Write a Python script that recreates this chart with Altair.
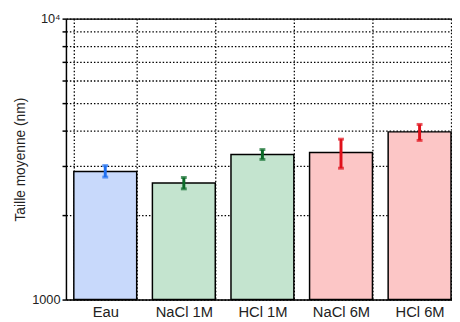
import altair as alt
import pandas as pd

categories = ["Eau", "NaCl 1M", "HCl 1M", "NaCl 6M", "HCl 6M"]
sizes = [2855, 2600, 3283, 3337, 3953]
err_low = [2729, 2478, 3155, 2935, 3686]
err_high = [2998, 2720, 3420, 3724, 4202]
fill_colors = ["#c8d9fb", "#c4e4cf", "#c4e4cf", "#fcc6c6", "#fcc6c6"]
err_colors = ["#1f6ff0", "#0b6b28", "#0b6b28", "#e0101a", "#e0101a"]

df = pd.DataFrame({
    "cat": categories,
    "val": sizes,
    "lo": err_low,
    "hi": err_high,
    "fill": fill_colors,
    "ecol": err_colors,
})

FONT = "Arial, Liberation Sans, sans-serif"
xscale = alt.Scale(domain=categories, range=[0, 400], paddingInner=0.2, paddingOuter=0.1)
yscale = alt.Scale(type="log", domain=[1000, 10000])

x_bottom = alt.X("cat:N", sort=categories, scale=xscale, axis=alt.Axis(
    orient="bottom", title=None, labelAngle=0, ticks=False, labelPadding=5,
    labelFont=FONT, labelFontSize=15, labelColor="#222",
    domainColor="black", domainWidth=1.5,
    grid=True, tickBand="extent", gridColor="black", gridDash=[1.5, 2], gridWidth=1.3,
))
y_left = alt.Y("val:Q", scale=yscale, axis=alt.Axis(
    title="Taille moyenne (nm)", titleFont=FONT, titleFontSize=14,
    titleFontWeight="normal", titleColor="#222", titlePadding=4,
    values=[1000, 2000, 3000, 4000, 5000, 6000, 7000, 8000, 9000, 10000],
    labelExpr="datum.value == 10000 ? '10⁴' : (datum.value == 1000 ? '1000' : '')",
    labelFont=FONT, labelFontSize=13, labelColor="#222",
    tickSize=4, tickWidth=1.5, tickColor="black",
    domainColor="black", domainWidth=1.5,
    grid=True, gridColor="black", gridDash=[1.5, 2], gridWidth=1.3,
))

bars = alt.Chart(df).mark_bar(stroke="black", strokeWidth=1.5).encode(
    x=x_bottom,
    y=y_left,
    y2=alt.Y2Datum(1000),
    fill=alt.Fill("fill:N", scale=None),
)

rules = alt.Chart(df).mark_rule(strokeWidth=3).encode(
    x=alt.X("cat:N", sort=categories, scale=xscale, axis=alt.Axis(
        orient="top", title=None, labels=False, ticks=False, grid=False,
        domain=True, domainColor="black", domainWidth=1.5)),
    y=alt.Y("lo:Q", scale=yscale, axis=None),
    y2="hi:Q",
    color=alt.Color("ecol:N", scale=None),
)

caps_lo = alt.Chart(df).mark_tick(size=6, thickness=3, orient="horizontal").encode(
    x=alt.X("cat:N", sort=categories, scale=xscale, axis=None),
    y=alt.Y("lo:Q", scale=yscale, axis=None),
    color=alt.Color("ecol:N", scale=None),
)
caps_hi = alt.Chart(df).mark_tick(size=6, thickness=3, orient="horizontal").encode(
    x=alt.X("cat:N", sort=categories, scale=xscale, axis=None),
    y=alt.Y("hi:Q", scale=yscale, axis=None),
    color=alt.Color("ecol:N", scale=None),
)

chart = alt.layer(bars, rules, caps_lo, caps_hi).resolve_axis(
    x="independent", y="independent"
).properties(
    width=393, height=286,
    autosize=alt.AutoSizeParams(type="none"),
    padding={"left": 59, "top": 8, "right": 0, "bottom": 20},
).configure_view(stroke=None).configure(background="white")

chart.save("out.html", embed_options={"renderer": "svg", "actions": False})
